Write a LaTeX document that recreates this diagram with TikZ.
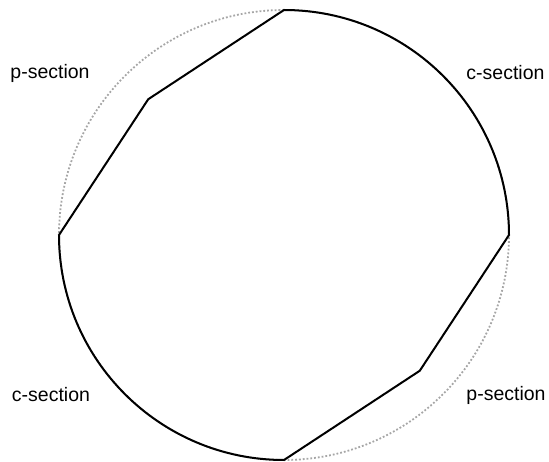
\documentclass[tikz,border=0pt]{standalone}
\usepackage{fontspec}
\setmainfont{Liberation Sans}
\usetikzlibrary{calc}
\tikzset{
  sec/guide/.style={draw=black!35, dotted, line width=1.8pt},
  sec/outline/.style={draw=black, line width=2pt, line join=miter},
  sec/lbl/.style={font=\fontsize{19.5}{23}\selectfont, inner sep=0pt}
}
\begin{document}
\begin{tikzpicture}[x=1pt,y=1pt]
  \useasboundingbox (0,0) rectangle (549,461);
  \coordinate (ctr) at (284,226);
  \coordinate (top) at ($(ctr)+(90:225)$);
  \coordinate (bot) at ($(ctr)+(270:225)$);
  \coordinate (pa) at ($(ctr)+(135:192)$);
  \coordinate (pb) at ($(ctr)+(-45:192)$);

  % dotted reference circle
  \draw[sec/guide] (ctr) circle (225);
  % mixed outline
  \draw[sec/outline] (top) arc[start angle=90, end angle=0, radius=225]
    -- (pb) -- (bot) arc[start angle=270, end angle=180, radius=225]
    -- (pa) -- cycle;

  \node[sec/lbl] (ptl) at (50,388) {p-section};
  \node[sec/lbl] (ctr-lbl) at (505.5,388) {c-section};
  \node[sec/lbl] (cbl) at (51,66) {c-section};
  \node[sec/lbl] (pbr) at (506,66) {p-section};
\end{tikzpicture}
\end{document}
